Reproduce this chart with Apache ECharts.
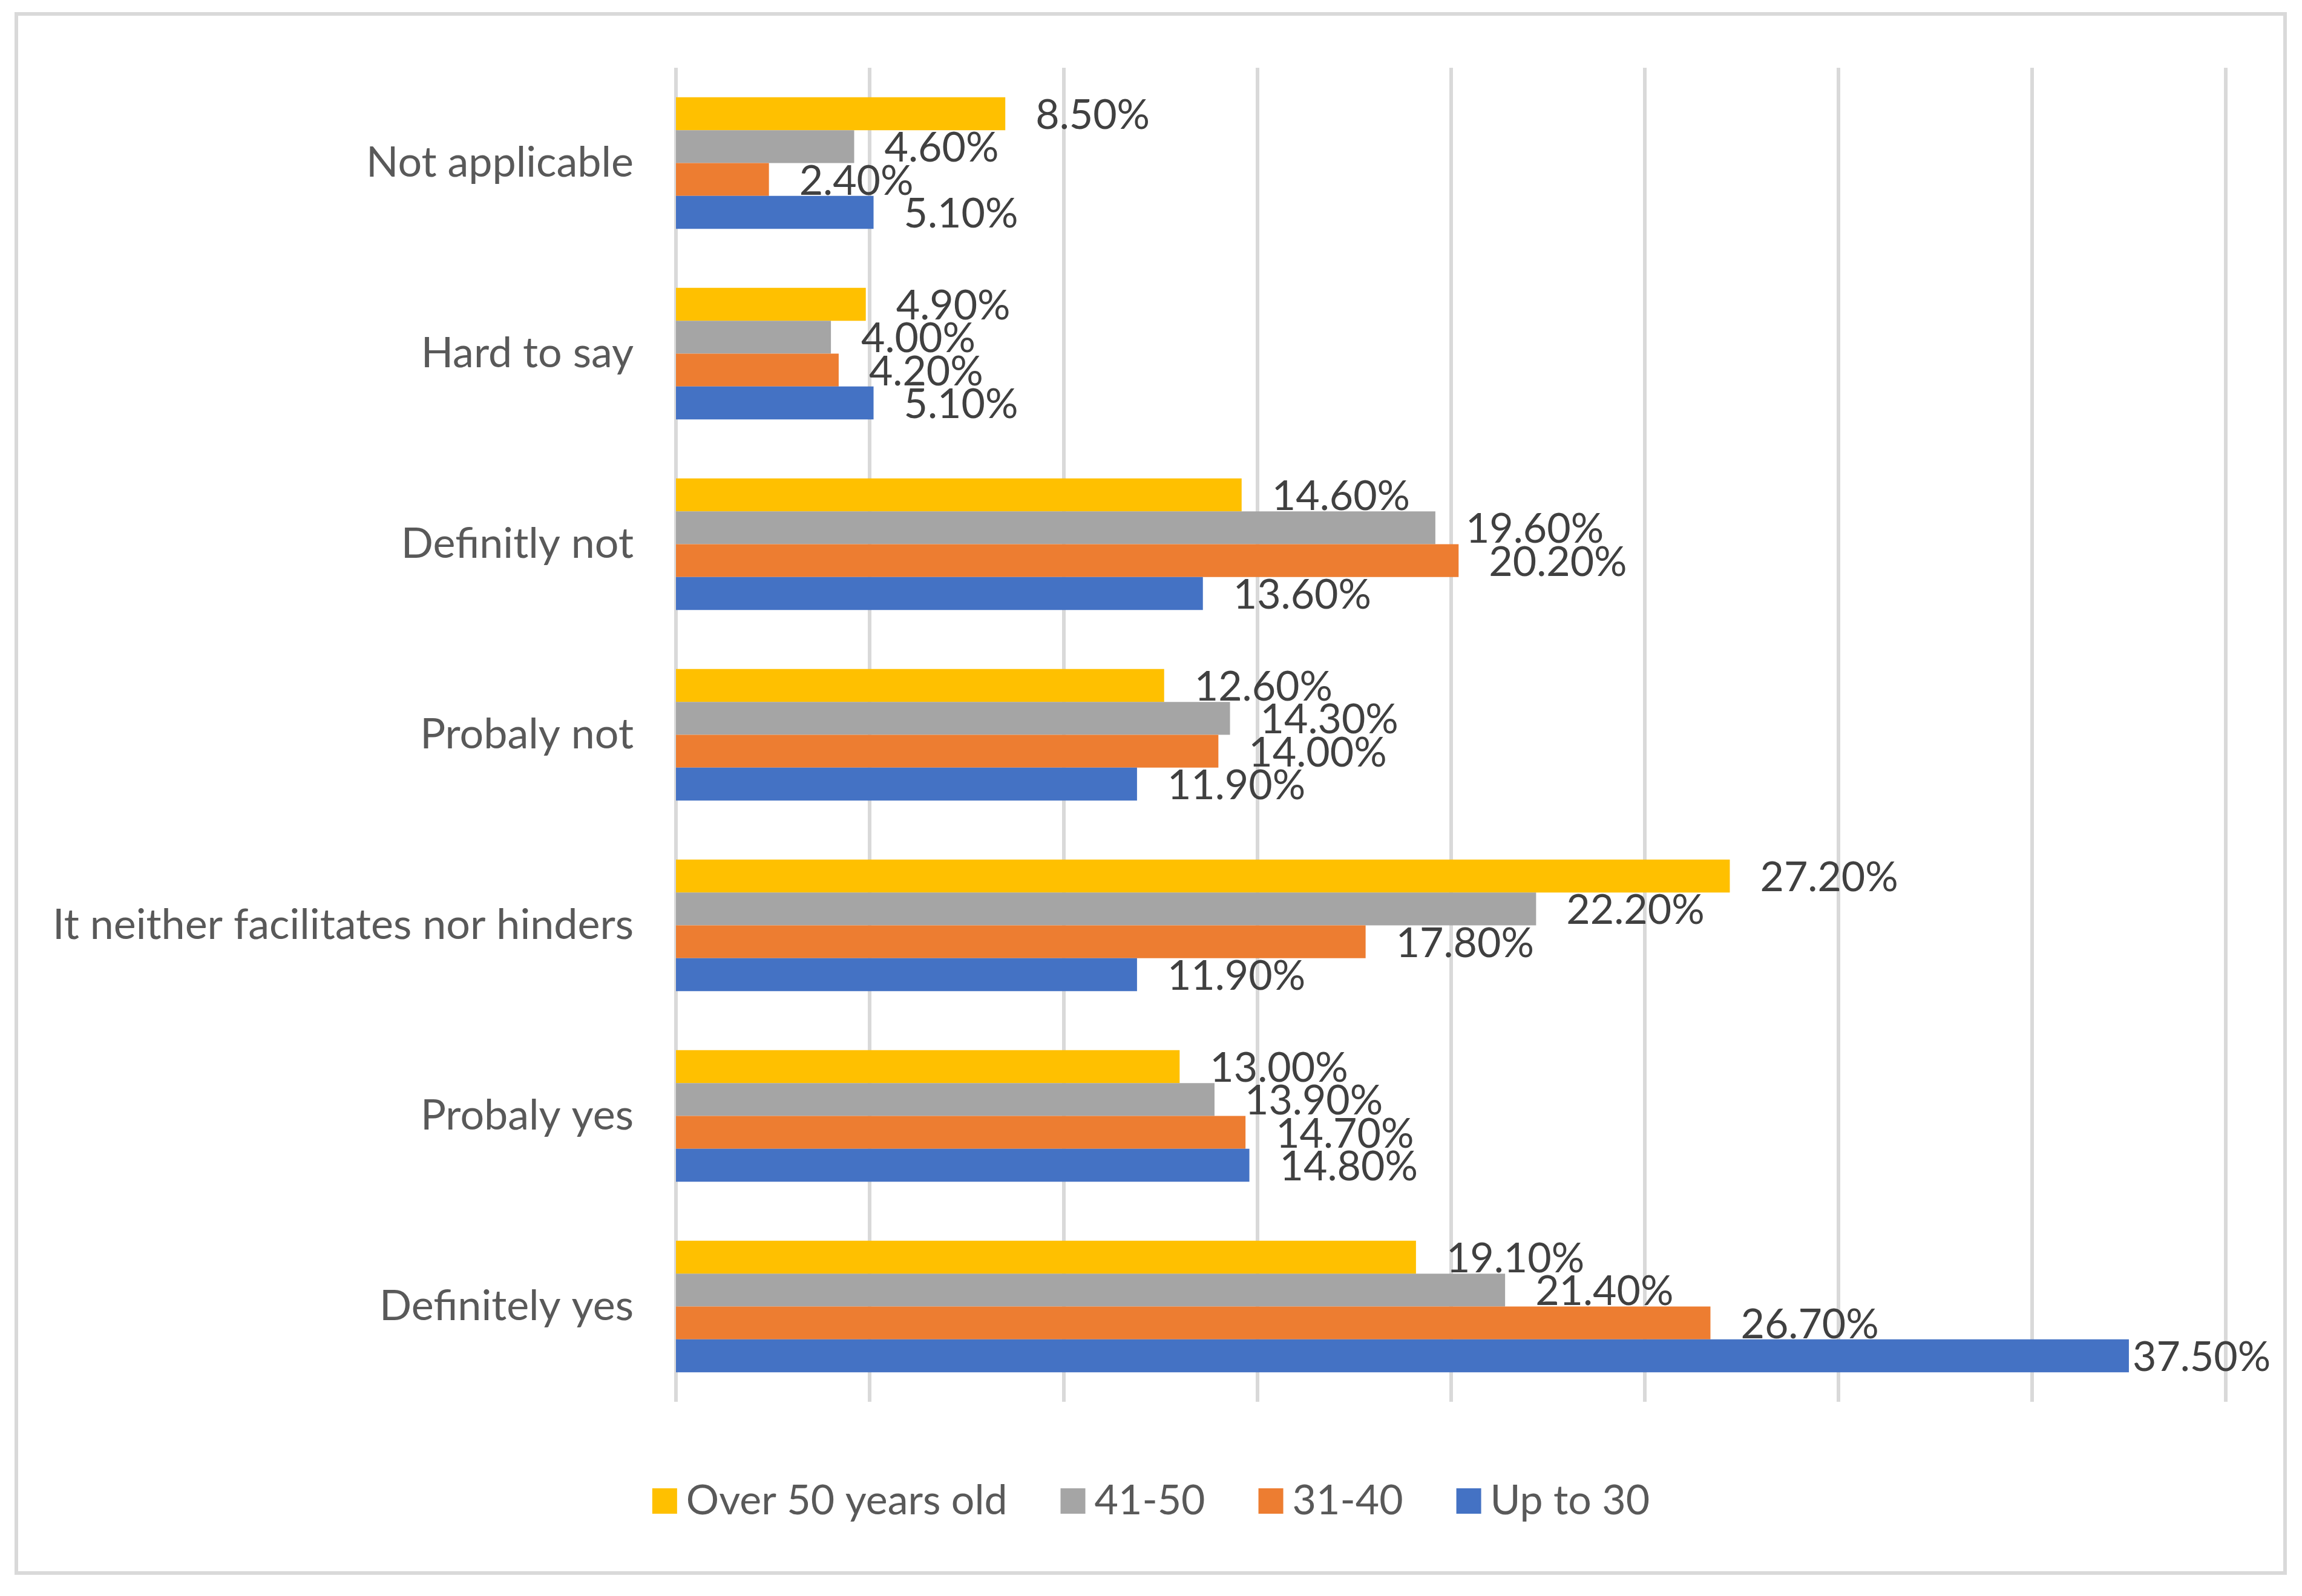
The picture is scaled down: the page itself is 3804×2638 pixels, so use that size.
<!DOCTYPE html>
<html>
<head>
<meta charset="utf-8">
<script src="https://cdn.jsdelivr.net/npm/echarts@6/dist/echarts.min.js"></script>
<style>
html,body{margin:0;padding:0;background:#fff;}
#chart{width:3804px;height:2638px;}
</style>
</head>
<body>
<div id="chart"></div>
<script>
// Categories listed bottom to top
const categories = ["Definitely yes", "Probaly yes", "It neither facilitates nor hinders", "Probaly not", "Definitly not", "Hard to say", "Not applicable"];
const seriesNames = ["Over 50 years old", "41-50", "31-40", "Up to 30"];
const over50 = [19.1, 13.0, 27.2, 12.6, 14.6, 4.9, 8.5];
const age41to50 = [21.4, 13.9, 22.2, 14.3, 19.6, 4.0, 4.6];
const age31to40 = [26.7, 14.7, 17.8, 14.0, 20.2, 4.2, 2.4];
const upTo30 = [37.5, 14.8, 11.9, 11.9, 13.6, 5.1, 5.1];
const xTicks = [0, 5, 10, 15, 20, 25, 30, 35, 40];

const colors = ["#FFC000", "#A5A5A5", "#ED7D31", "#4472C4"];
const allValues = [over50, age41to50, age31to40, upTo30];
const FONT = "Lato";

const chart = echarts.init(document.getElementById('chart'), null, {renderer: 'canvas'});
const series = allValues.map((vals, i) => ({
  name: seriesNames[i],
  type: 'bar',
  barGap: '0%',
  barCategoryGap: '31%',
  itemStyle: {color: colors[i]},
  label: {
    show: true,
    position: 'right',
    distance: 50,
    color: '#404040',
    fontSize: 68,
    fontFamily: FONT,
    offset: [0, 3],
    formatter: p => p.value.toFixed(2) + '%'
  },
  data: vals.map(v => v > 35 ? {value: v, label: {distance: 6}} : v)
}));

chart.setOption({
  animation: false,
  backgroundColor: '#ffffff',
  graphic: [{
    type: 'rect', silent: true, z: -1,
    shape: {x: 27, y: 23, width: 3749, height: 2577},
    style: {fill: 'none', stroke: '#d9d9d9', lineWidth: 6}
  }],
  legend: {
    data: seriesNames,
    bottom: 2638 - 2480 - 40,
    left: 'center',
    icon: 'rect',
    itemWidth: 41,
    itemHeight: 42,
    itemGap: 88,
    textStyle: {fontSize: 68, fontFamily: FONT, color: '#595959', padding: [0, 0, 0, 10]}
  },
  grid: {left: 1117, right: 126, top: 112, bottom: 321, containLabel: false},
  xAxis: {
    type: 'value', min: xTicks[0], max: xTicks[xTicks.length - 1], interval: 5,
    axisLabel: {show: false}, axisLine: {show: false}, axisTick: {show: false},
    splitLine: {show: true, lineStyle: {color: '#d9d9d9', width: 6}}
  },
  yAxis: {
    type: 'category', data: categories,
    axisLine: {show: false}, axisTick: {show: false},
    axisLabel: {fontSize: 70, fontFamily: FONT, color: '#595959', margin: 70}
  },
  series: series
});
</script>
</body>
</html>
